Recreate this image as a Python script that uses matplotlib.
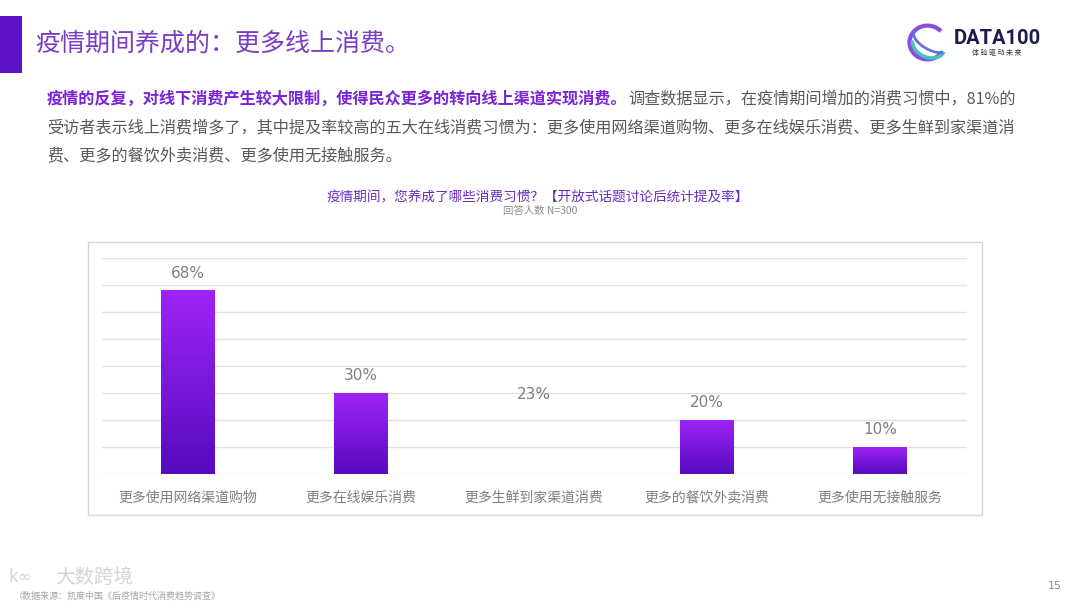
import matplotlib
matplotlib.use('Agg')
import matplotlib.pyplot as plt
import numpy as np
from matplotlib.colors import LinearSegmentedColormap
from matplotlib.patches import Rectangle, Arc

plt.rcParams['font.family'] = ['Noto Sans CJK SC', 'DejaVu Sans']

categories = ['更多使用网络渠道购物', '更多在线娱乐消费', '更多生鲜到家渠道消费',
              '更多的餐饮外卖消费', '更多使用无接触服务']
values = [68, 30, 23, 20, 10]
bar_shown = [True, True, False, True, True]  # the 23% bar is not drawn in the source

W, H = 1080, 608
fig = plt.figure(figsize=(W / 100, H / 100), dpi=100)
fig.patch.set_facecolor('white')


def fx(x):
    return x / W


def fy(y):
    return 1 - y / H


# header
fig.patches.append(Rectangle((0, fy(73)), fx(22), (73 - 16) / H, transform=fig.transFigure,
                             color='#5E10C8', lw=0))
fig.text(fx(35), fy(44), '疫情期间养成的：更多线上消费。', fontsize=18, color='#7B3CC6',
         va='center', ha='left')

# logo
lax = fig.add_axes([fx(905), fy(65), fx(45), 45 / H])
lax.set_xlim(-1, 1)
lax.set_ylim(-1, 1)
lax.axis('off')
lax.add_patch(Arc((0, 0), 1.6, 1.5, theta1=40, theta2=330, color='#8A4BE0', lw=3))
lax.add_patch(Arc((0.05, -0.1), 1.5, 1.1, angle=-25, theta1=190, theta2=360, color='#3FC8B8', lw=2.5))
lax.add_patch(Arc((0.1, 0.05), 1.6, 0.7, angle=-30, theta1=170, theta2=350, color='#6A6FE0', lw=2))
fig.text(fx(954), fy(38), 'DATA100', fontsize=14.5, fontweight='bold', color='#1C1C4C',
         family='Roboto', va='center', ha='left')
fig.text(fx(997), fy(53), '体 验 驱 动 未 来', fontsize=5, color='#333344', va='center', ha='center')

# paragraph
bold_part = '疫情的反复，对线下消费产生较大限制，使得民众更多的转向线上渠道实现消费。'
normal_part = '调查数据显示，在疫情期间增加的消费习惯中，81%的'
line2 = '受访者表示线上消费增多了，其中提及率较高的五大在线消费习惯为：更多使用网络渠道购物、更多在线娱乐消费、更多生鲜到家渠道消'
line3 = '费、更多的餐饮外卖消费、更多使用无接触服务。'
fs = 11.65
t1 = fig.text(fx(47), fy(99), bold_part, fontsize=fs, fontweight='bold', color='#7A22D6',
              va='center', ha='left')
renderer = fig.canvas.get_renderer()
bb = t1.get_window_extent(renderer)
fig.text(bb.x1 / W + fx(1), fy(99), normal_part, fontsize=fs, color='#595959', va='center', ha='left')
fig.text(fx(47), fy(128), line2, fontsize=fs, color='#595959', va='center', ha='left')
fig.text(fx(47), fy(156), line3, fontsize=fs, color='#595959', va='center', ha='left')

# chart titles
fig.text(fx(538), fy(197), '疫情期间，您养成了哪些消费习惯？【开放式话题讨论后统计提及率】',
         fontsize=9.8, color='#6B2DC0', va='center', ha='center')
fig.text(fx(540), fy(211), '回答人数 N=300', fontsize=7.5, color='#8C8C8C', va='center', ha='center')

# chart frame
fig.patches.append(Rectangle((fx(88), fy(515)), fx(981.7 - 88), (515 - 241.7) / H,
                             transform=fig.transFigure, fill=False, ec='#D6D6D6', lw=1))

ax = fig.add_axes([fx(101.7), fy(474), fx(865), 216.3 / H])
x = np.arange(len(categories))
bars = ax.bar(x, values, width=0.31, color='none', lw=0)
cmap = LinearSegmentedColormap.from_list('bar', ['#560BBE', '#A024F8'])
grad = np.linspace(0, 1, 256).reshape(-1, 1)
for b, show in zip(bars, bar_shown):
    if not show:
        continue
    x0, y0, w, h = b.get_x(), b.get_y(), b.get_width(), b.get_height()
    im = ax.imshow(grad, extent=[x0, x0 + w, y0, y0 + h], origin='lower', cmap=cmap,
                   aspect='auto', zorder=3)
    im.set_clip_path(b)

for xi, v in zip(x, values):
    ax.text(xi, v + 6.3, f'{v}%', ha='center', va='center', fontsize=11, color='#7F7F7F',
            family='DejaVu Sans')

ax.set_xlim(-0.5, len(categories) - 0.5)
ax.set_ylim(0, 80)
ax.set_yticks(np.arange(0, 81, 10))
ax.yaxis.grid(True, color='#E2E2E2', lw=1)
ax.set_axisbelow(True)
ax.set_xticks(x)
ax.set_xticklabels(categories, fontsize=10, color='#7F7F7F')
ax.tick_params(axis='x', length=0, pad=12)
ax.tick_params(axis='y', length=0, labelleft=False)
for s in ax.spines.values():
    s.set_visible(False)
ax.set_facecolor('none')

# footer
fig.text(fx(55), fy(577), '大数跨境', fontsize=14, color='#D4D4D4', va='center', ha='left')
fig.text(fx(8), fy(577), 'k∞', fontsize=12, color='#D4D4D4', va='center', ha='left', family='DejaVu Sans')
fig.text(fx(14), fy(596), '（数据来源：凯度中国《后疫情时代消费趋势调查》', fontsize=6.5, color='#A6A6A6',
         va='center', ha='left')
fig.text(fx(1055), fy(586), '15', fontsize=8, color='#8C8C8C', va='center', ha='center',
         family='DejaVu Sans')

fig.savefig('out.png', dpi=100)
